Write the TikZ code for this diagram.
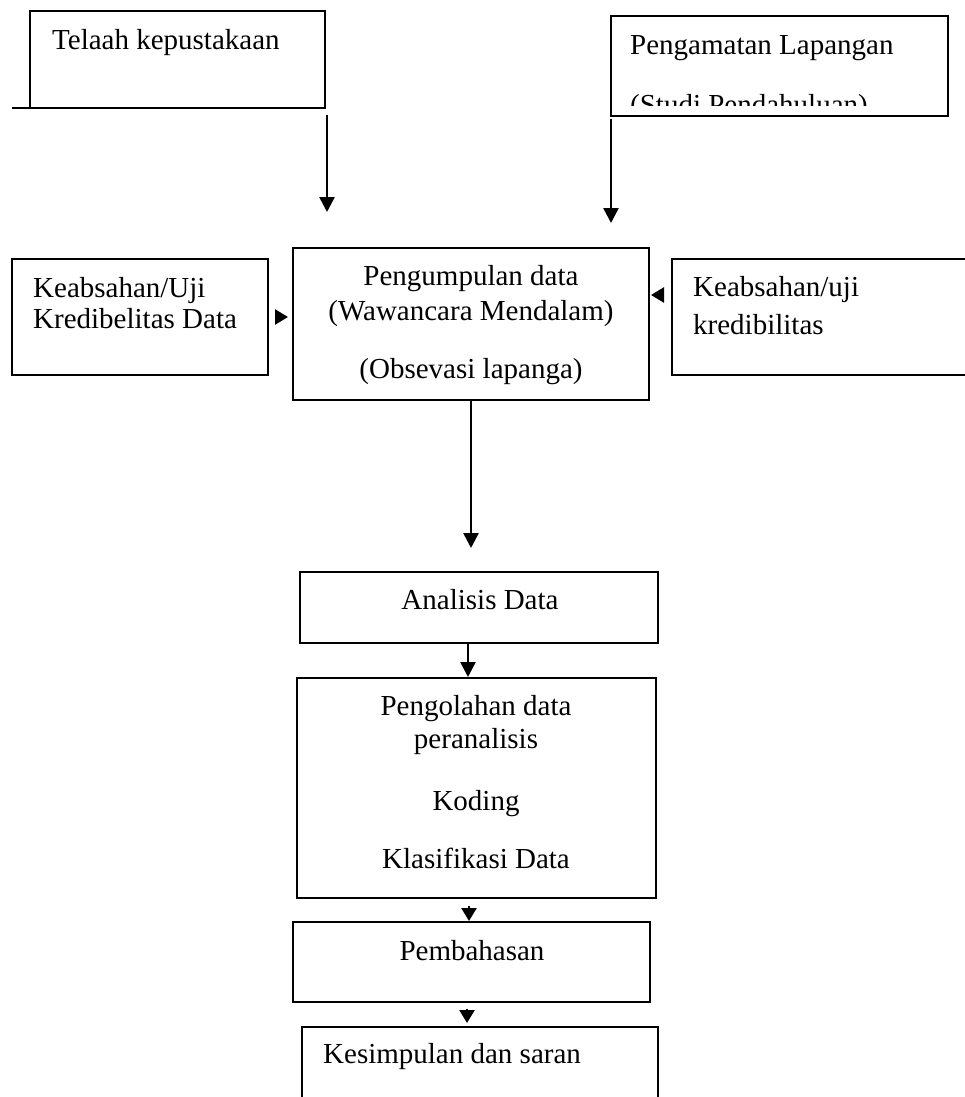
\documentclass[tikz,border=0pt]{standalone}
\usepackage{fontspec}
\setmainfont{Liberation Serif}
\usetikzlibrary{arrows.meta}
\begin{document}
\begin{tikzpicture}[x=1pt,y=-1pt,
  box/.style={draw, line width=2pt, inner sep=0pt, outer sep=0pt},
  edge/.style={line width=2pt},
  txt/.style={inner sep=0pt, font=\fontsize{29}{33}\selectfont},
  arr/.style={line width=2.6pt, -{Triangle[length=15pt,width=15pt]}},
  sidetip/.style={line width=2.6pt, -{Triangle[length=13pt,width=15pt]}}]

\useasboundingbox[fill=white] (0,0) rectangle (965,1097);

% ---- boxes ----
\node[box, minimum width=295pt, minimum height=97pt] (A) at (177.5,59.5) {};
\draw[edge] (12,108) -- (A.south west);
\node[box, minimum width=337pt, minimum height=100pt] (B) at (779.5,66) {};
\node[box, minimum width=256pt, minimum height=116pt] (C) at (140,317) {};
\node[box, minimum width=356pt, minimum height=152pt] (E) at (471,324) {};
\coordinate (Dtl) at (672,259);
\coordinate (Dbl) at (672,375);
\draw[edge] (966,259) -- (Dtl) -- (Dbl) -- (966,375);
\node[box, minimum width=358pt, minimum height=71pt] (F) at (479,607.5) {};
\node[box, minimum width=359pt, minimum height=220pt] (G) at (476.5,788) {};
\node[box, minimum width=357pt, minimum height=80pt] (H) at (471.5,962) {};
\coordinate (Itl) at (302,1027);
\coordinate (Itr) at (658,1027);
\draw[edge] (302,1100) -- (Itl) -- (Itr) -- (658,1100);

% ---- texts ----
\node[txt, anchor=base west] (tA) at (52,50) {Telaah kepustakaan};
\node[txt, anchor=base west] (tB1) at (630,55) {Pengamatan Lapangan};
\begin{scope}
  \clip (611,16) rectangle (948,106);
  \node[txt, anchor=base west] (tB2) at (630,114) {(Studi Pendahuluan)};
\end{scope}
\node[txt, anchor=base west] (tC1) at (33,297) {Keabsahan/Uji};
\node[txt, anchor=base west] (tC2) at (33,328) {Kredibelitas Data};
\node[txt, anchor=base] (tE1) at (471,285) {Pengumpulan data};
\node[txt, anchor=base] (tE2) at (471,320) {(Wawancara Mendalam)};
\node[txt, anchor=base] (tE3) at (471,378) {(Obsevasi lapanga)};
\node[txt, anchor=base west] (tD1) at (693,296) {Keabsahan/uji};
\node[txt, anchor=base west] (tD2) at (693,334) {kredibilitas};
\node[txt, anchor=base] (tF) at (480,609) {Analisis Data};
\node[txt, anchor=base] (tG1) at (476,715) {Pengolahan data};
\node[txt, anchor=base] (tG2) at (476,748) {peranalisis};
\node[txt, anchor=base] (tG3) at (476,810) {Koding};
\node[txt, anchor=base] (tG4) at (476,868) {Klasifikasi Data};
\node[txt, anchor=base] (tH) at (472,960) {Pembahasan};
\node[txt, anchor=base west] (tI) at (323,1063) {Kesimpulan dan saran};

% ---- connectors ----
\coordinate (a1s) at (327,115);
\coordinate (a1e) at (327,212);
\draw[arr] (a1s) -- (a1e);
\coordinate (a2s) at (611,119);
\coordinate (a2e) at (611,223);
\draw[arr] (a2s) -- (a2e);
\coordinate (tCe) at (288,317);
\draw[sidetip, shorten <=7pt] (C.east) -- (tCe);
\coordinate (Dm) at (672,295);
\coordinate (tDe) at (651,295);
\draw[sidetip, shorten <=8pt] (Dm) -- (tDe);
\coordinate (a5e) at (471,548);
\draw[arr] (E.south) -- (a5e);
\coordinate (a6s) at (468,643);
\coordinate (a6e) at (468,677);
\draw[arr] (a6s) -- (a6e);
\coordinate (a7s) at (469,898);
\coordinate (a7e) at (469,921);
\draw[sidetip, shorten <=8pt] (a7s) -- (a7e);
\coordinate (a8s) at (467,1002);
\coordinate (a8e) at (467,1023);
\draw[sidetip, shorten <=7pt] (a8s) -- (a8e);
\end{tikzpicture}
\end{document}
